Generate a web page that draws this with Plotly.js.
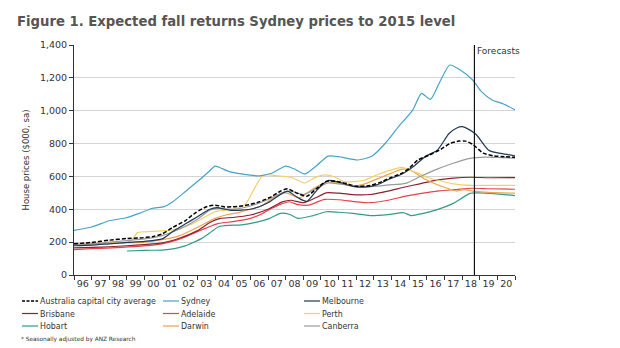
<!DOCTYPE html>
<html>
<head>
<meta charset="utf-8">
<script src="https://cdn.plot.ly/plotly-3.0.1.min.js"></script>
<style>html,body{margin:0;padding:0;background:#fff}#chart{width:620px;height:348px}</style>
</head>
<body>
<div id="chart"></div>
<script>
// ---- Data (x in decimal years) ----
const yearLabels = ['96','97','98','99','00','01','02','03','04','05','06','07','08','09','10','11','12','13','14','15','16','17','18','19','20'];
const forecastStart = 2018.7;

const ausX = [1996.0,1997.0,1998.0,1999.0,1999.7,2000.5,2001.0,2001.6,2002.3,2002.9,2003.5,2004.0,2004.5,2005.0,2005.5,2006.0,2006.5,2007.2,2007.7,2008.1,2008.6,2009.2,2009.8,2010.3,2011.0,2011.5,2012.0,2012.8,2013.5,2014.0,2014.6,2015.0,2015.5,2016.1,2016.8,2017.3,2017.8,2018.2,2018.6,2019.2,2019.8,2020.4,2021.0];
const ausY = [190,198,212,222,225,235,250,290,330,380,415,425,415,415,420,430,445,477,510,525,500,480,530,570,568,555,540,545,570,595,620,650,700,728,765,800,815,815,795,742,725,720,716];

const sydX = [1996.0,1997.0,1998.0,1998.9,1999.7,2000.4,2001.1,2001.6,2002.3,2003.1,2003.7,2004.0,2004.8,2005.5,2006.5,2007.2,2008.0,2008.5,2009.1,2009.8,2010.4,2011.0,2012.1,2012.9,2013.65,2014.4,2015.2,2015.7,2016.2,2016.7,2017.3,2017.9,2018.6,2019.1,2019.7,2020.35,2021.0];
const sydY = [272,292,330,347,375,405,416,446,507,578,635,663,629,615,603,619,663,645,615,670,724,720,700,724,802,903,1004,1106,1069,1167,1278,1248,1187,1116,1065,1041,1005];

const melX = [1996.0,1997.0,1998.0,1999.0,2000.0,2001.0,2001.6,2002.3,2003.0,2003.7,2004.1,2004.8,2005.5,2006.2,2007.0,2007.7,2008.1,2008.7,2009.2,2009.8,2010.4,2011.0,2011.8,2012.5,2013.2,2013.8,2014.6,2015.3,2015.9,2016.6,2017.25,2017.7,2018.0,2018.4,2018.8,2019.5,2020.2,2021.0];
const melY = [178,182,190,198,205,220,265,310,355,400,410,395,395,405,440,490,510,470,448,520,575,565,540,535,550,580,615,665,720,760,860,895,903,885,855,760,740,725];

const briX = [1996.0,1997.0,1998.0,1999.0,2000.0,2001.0,2002.0,2003.0,2003.7,2004.3,2005.0,2006.0,2007.0,2007.8,2008.3,2009.0,2009.7,2010.3,2011.0,2012.0,2012.8,2013.8,2014.7,2015.6,2016.55,2017.5,2018.5,2019.5,2021.0];
const briY = [165,168,172,178,185,195,225,270,320,345,350,365,400,445,455,440,470,500,498,488,490,510,534,555,578,590,595,592,593];

const adeX = [1996.0,1997.0,1998.7,2000.6,2001.4,2002.1,2002.8,2003.45,2004.2,2005.0,2006.0,2006.6,2007.1,2007.7,2008.2,2008.7,2009.3,2010.2,2011.0,2012.0,2012.8,2013.8,2014.8,2015.7,2016.7,2017.6,2018.6,2019.5,2021.0];
const adeY = [155,160,168,183,200,223,255,284,314,325,345,370,400,430,446,428,425,460,458,445,440,455,480,497,512,520,528,525,522];

const perX = [1996.0,1997.0,1998.0,1999.0,1999.3,1999.6,2000.5,2001.4,2002.0,2002.7,2003.3,2004.0,2004.6,2005.2,2005.7,2006.0,2006.4,2006.75,2007.6,2008.3,2009.1,2009.6,2010.25,2010.8,2011.3,2012.4,2013.3,2014.0,2014.6,2015.0,2015.5,2016.0,2016.7,2017.5,2018.6,2019.5,2021.0];
const perY = [190,192,195,198,215,258,265,272,285,310,345,385,395,405,430,480,560,609,603,595,560,590,609,595,568,575,615,640,655,640,620,595,575,555,545,546,545];

const hobX = [1999.0,2000.0,2001.0,2001.7,2002.3,2002.8,2003.25,2003.8,2004.2,2004.8,2005.5,2006.3,2007.1,2007.7,2008.2,2008.7,2009.5,2010.3,2011.0,2011.8,2012.8,2013.8,2014.7,2015.1,2015.8,2016.55,2017.5,2018.45,2019.0,2019.8,2021.0];
const hobY = [146,150,152,160,177,200,223,264,294,302,305,320,345,375,370,345,360,385,382,375,362,368,379,362,375,396,436,497,500,495,483];

const darX = [1996.0,1998.0,2000.0,2001.0,2002.0,2003.0,2004.0,2004.6,2005.3,2006.0,2006.7,2007.3,2008.0,2008.8,2009.5,2010.3,2011.0,2011.8,2012.5,2013.3,2014.0,2014.6,2015.05,2015.5,2016.0,2016.9,2017.7,2018.1,2018.7,2019.5,2021.0];
const darY = [185,192,200,215,240,290,345,365,380,400,425,470,500,470,520,565,560,540,555,590,620,645,639,610,578,537,511,520,510,503,498];

const canX = [1996.0,1997.0,1998.0,1999.0,2000.0,2001.0,2002.0,2003.0,2003.7,2004.2,2005.0,2006.0,2007.0,2007.8,2008.3,2009.0,2009.8,2010.4,2011.0,2012.0,2013.0,2013.8,2014.8,2015.6,2016.55,2017.5,2018.45,2019.3,2020.3,2021.0];
const canY = [185,190,200,210,220,240,280,340,395,405,400,420,460,500,510,490,530,560,555,540,540,548,558,598,643,680,710,718,714,712];

const seriesNames = ['Australia capital city average','Sydney','Melbourne','Brisbane','Adelaide','Perth','Hobart','Darwin','Canberra'];
const seriesColors = ['#000000','#45a3c8','#1f3a56','#8e1f30','#e5434b','#f2d068','#2f9c8a','#f0a24c','#9a9a9a'];
const seriesX = [ausX,sydX,melX,briX,adeX,perX,hobX,darX,canX];
const seriesY = [ausY,sydY,melY,briY,adeY,perY,hobY,darY,canY];
// draw order (back to front)
const drawOrder = [6,4,3,7,5,8,2,0,1];

// ---- Geometry helpers ----
const PL = 74, PR = 515, PT = 45, PB = 275;
const px = x => (x - PL) / (PR - PL);
const py = y => (PB - y) / (PB - PT);

const traces = drawOrder.map(i => ({
  type: 'scatter', mode: 'lines', name: seriesNames[i],
  x: seriesX[i], y: seriesY[i], showlegend: false,
  line: {color: seriesColors[i], width: i === 0 ? 1.5 : 1.2, dash: i === 0 ? '4px,2px' : 'solid', shape: 'spline', smoothing: 0.6},
  hoverinfo: 'skip'
}));

// ---- Custom legend (3 columns x 3 rows) ----
const colX = [22, 163, 304];
const rowY = [301, 313.5, 326];
const shapes = [{
  type: 'line', xref: 'x', yref: 'y', x0: forecastStart, x1: forecastStart, y0: 0, y1: 1400,
  line: {color: '#111', width: 1.2}
}];
const annotations = [{
  text: 'Forecasts', xref: 'x', yref: 'paper', x: forecastStart, y: py(51), xanchor: 'left', yanchor: 'middle',
  showarrow: false, xshift: 1, font: {family: 'DejaVu Sans', size: 9, color: '#333'}
}, {
  text: '* Seasonally adjusted by ANZ Research', xref: 'paper', yref: 'paper', x: px(19), y: py(339),
  xanchor: 'left', yanchor: 'middle', showarrow: false, font: {family: 'DejaVu Sans', size: 5.8, color: '#333'}
}];
seriesNames.forEach((nm, i) => {
  const c = i % 3, r = Math.floor(i / 3);
  shapes.push({
    type: 'line', xref: 'paper', yref: 'paper', x0: px(colX[c]), x1: px(colX[c] + 16), y0: py(rowY[r]), y1: py(rowY[r]),
    line: {color: seriesColors[i], width: i === 0 ? 1.5 : 1.2, dash: i === 0 ? '3px,1.5px' : 'solid'}
  });
  annotations.push({
    text: nm, xref: 'paper', yref: 'paper', x: px(colX[c] + 16), y: py(rowY[r]), xanchor: 'left', yanchor: 'middle',
    showarrow: false, font: {family: 'DejaVu Sans Condensed', size: 8.8, color: '#333'}
  });
});

const tickVals = yearLabels.map((_, i) => 1996.5 + i);

const layout = {
  width: 620, height: 348,
  margin: {l: PL, r: 620 - PR, t: PT, b: 348 - PB, pad: 0},
  paper_bgcolor: '#fff', plot_bgcolor: '#fff',
  title: {text: 'Figure 1. Expected fall returns Sydney prices to 2015 level', x: 17 / 620, xanchor: 'left', xref: 'container',
          y: 1 - 21 / 348, yanchor: 'middle', yref: 'container', font: {family: 'DejaVu Sans Condensed', size: 14.7, color: '#555', weight: 'bold'}},
  xaxis: {
    range: [1996, 2021], tickmode: 'array', tickvals: tickVals, ticktext: yearLabels, ticks: '',
    showgrid: false, zeroline: false, showline: true, linecolor: '#333', linewidth: 1,
    tickfont: {family: 'DejaVu Sans', size: 9.5, color: '#333'},
    minor: {tickmode: 'linear', tick0: 1996, dtick: 1, ticks: 'outside', ticklen: 4, tickcolor: '#333', showgrid: false},
    fixedrange: true
  },
  yaxis: {
    range: [0, 1400], tickmode: 'linear', tick0: 0, dtick: 200, tickformat: ',',
    ticks: 'outside', ticklen: 4, tickcolor: '#333',
    showgrid: true, gridcolor: '#d4d4d4', gridwidth: 1, zeroline: false,
    showline: true, linecolor: '#333', linewidth: 1,
    tickfont: {family: 'DejaVu Sans', size: 9.5, color: '#333'},
    title: {text: 'House prices ($000, sa)', standoff: 8, font: {family: 'DejaVu Sans', size: 8.5, color: '#333'}},
    fixedrange: true
  },
  shapes: shapes,
  annotations: annotations,
  showlegend: false
};

Plotly.newPlot('chart', traces, layout, {displayModeBar: false, staticPlot: true});
</script>
</body>
</html>
